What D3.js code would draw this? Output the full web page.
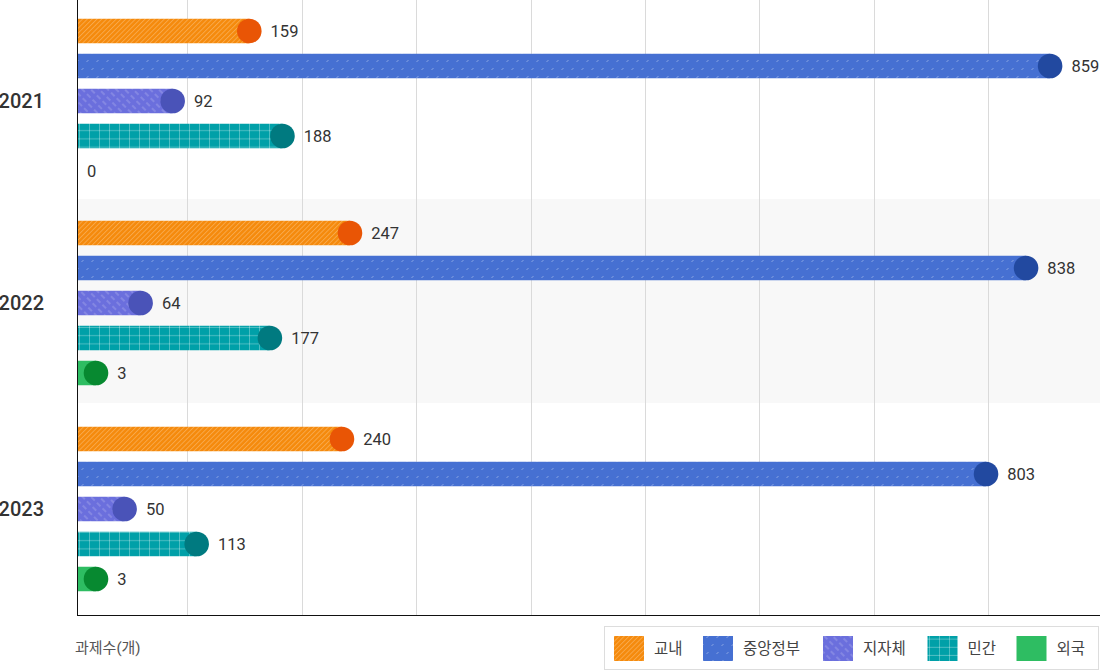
<!DOCTYPE html>
<html><head><meta charset="utf-8">
<script src="https://cdn.jsdelivr.net/npm/d3@7"></script>
<style>
html,body{margin:0;padding:0;background:#fff;}
text{font-family:Roboto,"Noto Sans CJK KR",sans-serif;}
</style></head>
<body>
<svg id="chart" width="1100" height="672"></svg>
<script>
// ---- data ----
const years = ["2021", "2022", "2023"];
const seriesNames = ["교내", "중앙정부", "지자체", "민간", "외국"];
const vGyonae = [159, 247, 240];
const vJungang = [859, 838, 803];
const vJijache = [92, 64, 50];
const vMingan = [188, 177, 113];
const vOeguk = [0, 3, 3];
const seriesValues = [vGyonae, vJungang, vJijache, vMingan, vOeguk];
const axisTitle = "과제수(개)";

// ---- styles ----
const barColors = ["#F58A0C", "#4670D2", "#6B6FDD", "#00A0A8", "#2EBD62"];
const dotColors = ["#E95505", "#2249A0", "#4A53B8", "#007A80", "#078930"];

const svg = d3.select("#chart");
const W = 1100, x0 = 77, yBottom = 615.5;

const x = d3.scaleLinear().domain([0, 900]).range([72.9, 1102.5]);
const yBand = d3.scaleBand().domain(years).range([-5, 607]);
const ySer = d3.scalePoint().domain(seriesNames).range([-70, 70]);
const barH = 24.5, r = 12.3, capShift = 5.5;

// patterns
const defs = svg.append("defs");
function pat(id, w, h, transform) {
  const p = defs.append("pattern").attr("id", id).attr("patternUnits", "userSpaceOnUse")
    .attr("width", w).attr("height", h);
  if (transform) p.attr("patternTransform", transform);
  return p;
}
let p;
p = pat("pat0", 3.4, 3.4, "rotate(45)");
p.append("rect").attr("width", 3.4).attr("height", 3.4).attr("fill", barColors[0]);
p.append("line").attr("x1", 0.5).attr("y1", 0).attr("x2", 0.5).attr("y2", 3.4)
  .attr("stroke", "#fff").attr("stroke-opacity", 0.3).attr("stroke-width", 0.8);

p = pat("pat1", 10, 16);
p.append("rect").attr("width", 10).attr("height", 16).attr("fill", barColors[1]);
[[1.5, 6, 3.5, 4], [6.5, 14, 8.5, 12]].forEach(d => {
  p.append("line").attr("x1", d[0]).attr("y1", d[1]).attr("x2", d[2]).attr("y2", d[3])
    .attr("stroke", "#fff").attr("stroke-opacity", 0.45).attr("stroke-width", 0.8);
});

p = pat("pat2", 6, 8, "rotate(-45)");
p.append("rect").attr("width", 6).attr("height", 8).attr("fill", barColors[2]);
p.append("line").attr("x1", 1).attr("y1", 0).attr("x2", 1).attr("y2", 5)
  .attr("stroke", "#fff").attr("stroke-opacity", 0.4).attr("stroke-width", 0.8);

p = pat("pat3", 10, 8.2);
p.append("rect").attr("width", 10).attr("height", 8.2).attr("fill", barColors[3]);
p.append("line").attr("x1", 9.5).attr("y1", 0).attr("x2", 9.5).attr("y2", 8.2)
  .attr("stroke", "#fff").attr("stroke-opacity", 0.3).attr("stroke-width", 1);
p.append("line").attr("x1", 0).attr("y1", 7.7).attr("x2", 10).attr("y2", 7.7)
  .attr("stroke", "#fff").attr("stroke-opacity", 0.3).attr("stroke-width", 1);

const fills = ["url(#pat0)", "url(#pat1)", "url(#pat2)", "url(#pat3)", barColors[4]];

// alternating background for middle band
svg.append("rect").attr("x", x0).attr("y", yBand("2022")).attr("width", W - x0)
  .attr("height", yBand.bandwidth()).attr("fill", "#f8f8f8");

// gridlines
const ticks = x.ticks(9).filter(t => t > 0 && t < 900);
svg.append("g").selectAll("line").data(ticks).join("line")
  .attr("x1", d => Math.round(x(d)) + 0.5).attr("x2", d => Math.round(x(d)) + 0.5)
  .attr("y1", 0).attr("y2", yBottom).attr("stroke", "#dadada").attr("stroke-width", 1);

// bars
const groupOffsets = [4, 2, 4];
years.forEach((yr, yi) => {
  const gc = yBand(yr) + yBand.bandwidth() / 2 + groupOffsets[yi];
  seriesNames.forEach((s, si) => {
    const v = seriesValues[si][yi];
    const cy = gc + ySer(s);
    const g = svg.append("g");
    if (v > 0) {
      const cx = Math.max(x(v) - capShift, x0 + 19);
      g.append("rect").attr("x", x0 + 1).attr("y", cy - barH / 2)
        .attr("width", cx - x0 - 1).attr("height", barH).attr("fill", fills[si]);
      g.append("circle").attr("cx", cx).attr("cy", cy).attr("r", r).attr("fill", dotColors[si]);
      g.append("text").attr("x", cx + r + 9).attr("y", cy).attr("dy", "0.36em")
        .attr("font-size", 16.5).attr("fill", "#333").text(v);
    } else {
      g.append("text").attr("x", x0 + 10).attr("y", cy).attr("dy", "0.36em")
        .attr("font-size", 16.5).attr("fill", "#333").text(v);
    }
  });
  svg.append("text").attr("x", 44).attr("y", gc).attr("dy", "0.36em").attr("text-anchor", "end")
    .attr("font-size", 20).attr("font-weight", 500).attr("fill", "#333").text(yr);
});

// axes lines
svg.append("line").attr("x1", x0 + 0.5).attr("x2", x0 + 0.5).attr("y1", 0).attr("y2", yBottom + 0.5)
  .attr("stroke", "#111").attr("stroke-width", 1);
svg.append("line").attr("x1", x0).attr("x2", W).attr("y1", yBottom).attr("y2", yBottom)
  .attr("stroke", "#111").attr("stroke-width", 1);

// axis title
svg.append("text").attr("x", 75).attr("y", 648).attr("dy", "0.36em")
  .attr("font-size", 15).attr("fill", "#555").text(axisTitle);

// legend
const lg = svg.append("g");
lg.append("rect").attr("x", 604.5).attr("y", 626.5).attr("width", 494).attr("height", 43)
  .attr("fill", "#fff").attr("stroke", "#ddd");
let lx = 614;
seriesNames.forEach((s, si) => {
  lg.append("rect").attr("x", lx).attr("y", 636).attr("width", 30).attr("height", 25).attr("fill", fills[si]);
  lg.append("text").attr("x", lx + 40).attr("y", 648.5).attr("dy", "0.36em")
    .attr("font-size", 15.5).attr("fill", "#444").text(s);
  lx += 40 + s.length * 15.5 + 18;
});
</script>
</body></html>
